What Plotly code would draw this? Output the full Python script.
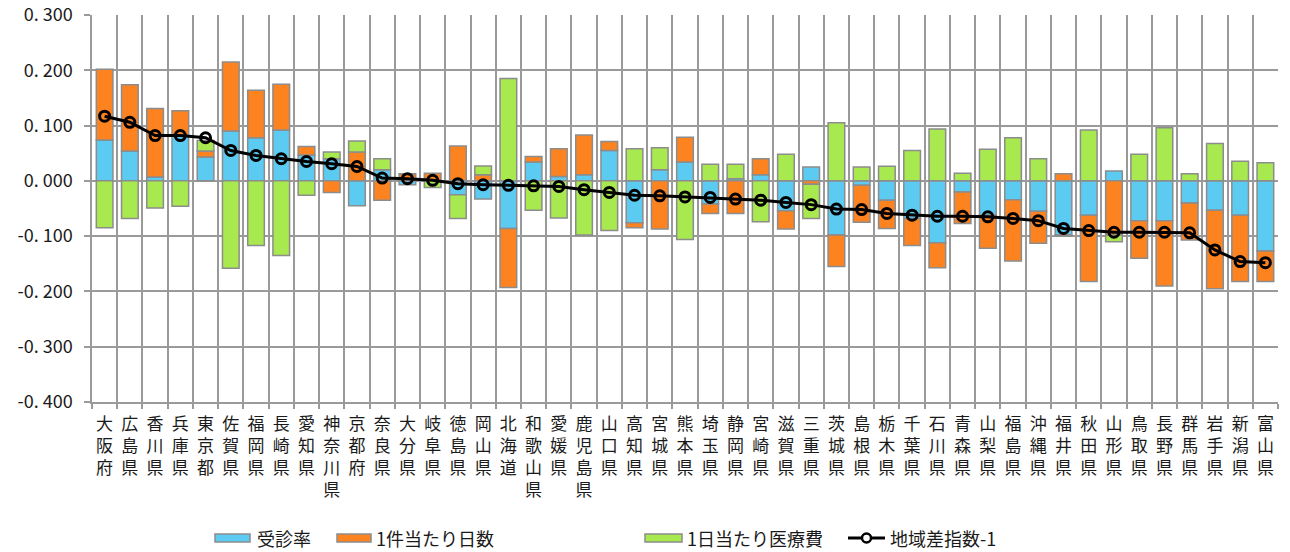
import plotly.graph_objects as go

prefectures = ["大阪府", "広島県", "香川県", "兵庫県", "東京都", "佐賀県", "福岡県", "長崎県",
               "愛知県", "神奈川県", "京都府", "奈良県", "大分県", "岐阜県", "徳島県", "岡山県",
               "北海道", "和歌山県", "愛媛県", "鹿児島県", "山口県", "高知県", "宮城県", "熊本県",
               "埼玉県", "静岡県", "宮崎県", "滋賀県", "三重県", "茨城県", "島根県", "栃木県",
               "千葉県", "石川県", "青森県", "山梨県", "福島県", "沖縄県", "福井県", "秋田県",
               "山形県", "鳥取県", "長野県", "群馬県", "岩手県", "新潟県", "富山県"]

jushin_rate = [0.074, 0.054, 0.007, 0.082, 0.043, 0.090, 0.078, 0.092,
               0.047, 0.040, -0.045, 0.020, -0.007, 0.000, -0.025, -0.033,
               -0.086, 0.034, 0.008, 0.011, 0.055, -0.076, 0.020, 0.034,
               -0.042, 0.004, 0.011, -0.054, 0.025, -0.098, -0.008, -0.035,
               -0.068, -0.112, -0.020, -0.062, -0.034, -0.055, -0.098, -0.062,
               0.018, -0.072, -0.072, -0.040, -0.053, -0.062, -0.127]

days_per_case = [0.128, 0.120, 0.124, 0.045, 0.011, 0.125, 0.086, 0.083,
                 0.015, -0.021, 0.052, -0.035, 0.013, 0.014, 0.063, 0.011,
                 -0.107, 0.010, 0.050, 0.072, 0.016, -0.009, -0.087, 0.045,
                 -0.017, -0.059, 0.029, -0.033, -0.006, -0.057, -0.067, -0.051,
                 -0.049, -0.045, -0.057, -0.060, -0.111, -0.058, 0.013, -0.120,
                 -0.098, -0.068, -0.118, -0.067, -0.142, -0.120, -0.055]

cost_per_day = [-0.085, -0.068, -0.049, -0.046, 0.019, -0.158, -0.117, -0.135,
                -0.026, 0.012, 0.020, 0.020, 0.000, -0.012, -0.043, 0.016,
                0.185, -0.053, -0.067, -0.098, -0.090, 0.058, 0.040, -0.106,
                0.030, 0.026, -0.074, 0.048, -0.062, 0.105, 0.025, 0.0265,
                0.055, 0.094, 0.014, 0.057, 0.078, 0.040, -0.002, 0.092,
                -0.012, 0.048, 0.096, 0.013, 0.0675, 0.0355, 0.033]

regional_index = [0.117, 0.106, 0.082, 0.082, 0.078, 0.055, 0.046, 0.040,
                  0.035, 0.031, 0.026, 0.005, 0.004, 0.001, -0.005, -0.007,
                  -0.008, -0.009, -0.010, -0.016, -0.021, -0.026, -0.027, -0.029,
                  -0.030, -0.033, -0.035, -0.039, -0.043, -0.051, -0.052, -0.059,
                  -0.062, -0.064, -0.064, -0.065, -0.068, -0.072, -0.086, -0.090,
                  -0.093, -0.093, -0.093, -0.094, -0.125, -0.146, -0.148]

series_names = ["受診率", "1件当たり日数", "1日当たり医療費", "地域差指数-1"]
y_tick_vals = [0.3, 0.2, 0.1, 0.0, -0.1, -0.2, -0.3, -0.4]
y_tick_text = ["0. 300", "0. 200", "0. 100", "0. 000", "-0. 100", "-0. 200", "-0. 300", "-0. 400"]

FONT = "Noto Sans CJK JP"
BLUE = "#5BCBF2"
ORANGE = "#FD8321"
GREEN = "#A8E94F"
EDGE = "#8C8C8C"
GRID = "#9A9A9A"
TXT = "#1a1a1a"

x_labels = ["<br>".join(list(p)) for p in prefectures]

fig = go.Figure()
for name, vals, col in zip(series_names[:3], [jushin_rate, days_per_case, cost_per_day],
                           [BLUE, ORANGE, GREEN]):
    fig.add_trace(go.Bar(x=x_labels, y=vals, name=name, showlegend=False,
                         marker=dict(color=col, line=dict(color=EDGE, width=1.5))))

fig.add_trace(go.Scatter(x=x_labels, y=regional_index, name=series_names[3], showlegend=False,
                         mode="lines+markers",
                         line=dict(color="black", width=3),
                         marker=dict(symbol="circle-open", size=10, color="black",
                                     line=dict(color="black", width=3))))

L, R, T, B = 92, 12, 15, 150
W, H = 1290, 552
pw, ph = W - L - R, H - T - B


def px_x(px):
    return (px - L) / pw


def px_y(py):
    return (H - B - py) / ph


# custom legend (wide flat swatches like the reference)
legend_items = [
    (215, 250, 255, BLUE, series_names[0]),
    (337, 371, 374, ORANGE, series_names[1]),
    (645, 682, 685, GREEN, series_names[2]),
]
shapes = []
annotations = []
ly = 538
for x0, x1, tx, col, name in legend_items:
    shapes.append(dict(type="rect", xref="paper", yref="paper",
                       x0=px_x(x0), x1=px_x(x1), y0=px_y(ly + 4), y1=px_y(ly - 4),
                       fillcolor=col, line=dict(color=EDGE, width=1.5)))
    annotations.append(dict(xref="paper", yref="paper", x=px_x(tx), y=px_y(ly),
                            text=name, showarrow=False, xanchor="left", yanchor="middle",
                            font=dict(family=FONT, size=18, color=TXT)))
shapes.append(dict(type="line", xref="paper", yref="paper",
                   x0=px_x(848), x1=px_x(885), y0=px_y(ly), y1=px_y(ly),
                   line=dict(color="black", width=3)))
shapes.append(dict(type="circle", xref="paper", yref="paper",
                   x0=px_x(862), x1=px_x(871), y0=px_y(ly + 4.5), y1=px_y(ly - 4.5),
                   fillcolor="white", line=dict(color="black", width=2.5)))
annotations.append(dict(xref="paper", yref="paper", x=px_x(888), y=px_y(ly),
                        text=series_names[3], showarrow=False, xanchor="left", yanchor="middle",
                        font=dict(family=FONT, size=18, color=TXT)))

fig.update_layout(
    width=W, height=H,
    margin=dict(l=L, r=R, t=T, b=B, pad=0),
    barmode="relative",
    bargap=0.34,
    plot_bgcolor="white",
    paper_bgcolor="white",
    font=dict(family=FONT, size=18, color=TXT),
    shapes=shapes,
    annotations=annotations,
    showlegend=False,
)
fig.update_xaxes(type="category", range=[-0.5, len(prefectures) - 0.5],
                 tickson="boundaries", showgrid=True, gridcolor=GRID,
                 gridwidth=1.5, ticks="outside", ticklen=5, tickcolor=GRID, tickwidth=1.5,
                 showline=True, linecolor=GRID, linewidth=1.5, mirror=False,
                 automargin=False, ticklabelstandoff=6,
                 tickangle=0, tickfont=dict(family=FONT, size=17, color=TXT))
fig.update_yaxes(range=[-0.4001, 0.3001], tickmode="array", tickvals=y_tick_vals,
                 ticktext=y_tick_text,
                 showgrid=True, gridcolor=GRID, gridwidth=1.5, zeroline=False,
                 ticks="outside", ticklen=6, tickcolor=GRID, tickwidth=1.5,
                 showline=True, linecolor=GRID, linewidth=1.5,
                 automargin=False,
                 ticklabelstandoff=8,
                 tickfont=dict(family=FONT, size=18, color=TXT))

fig.write_html("out.html", config={"displayModeBar": False},
               post_script="document.body.style.margin='0';")
